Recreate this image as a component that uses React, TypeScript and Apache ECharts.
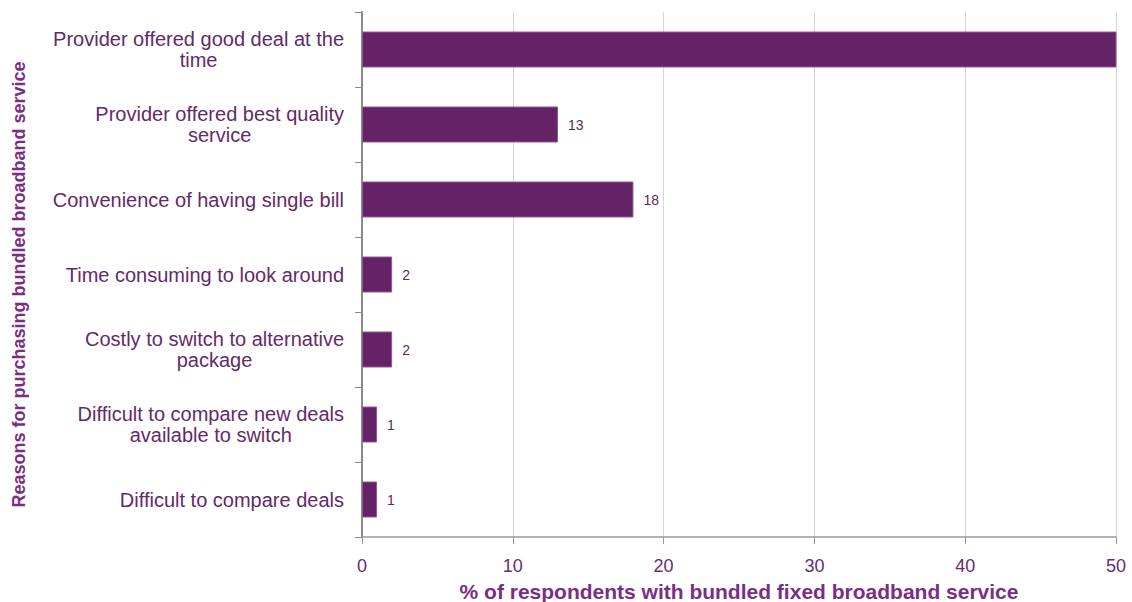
import React, { useEffect, useRef } from "react";
import * as echarts from "echarts";

const categories: string[] = [
  "Provider offered good deal at the\ntime",
  "Provider offered best quality\nservice",
  "Convenience of having single bill",
  "Time consuming to look around",
  "Costly to switch to alternative\npackage",
  "Difficult to compare new deals\navailable to switch",
  "Difficult to compare deals",
];
const values: number[] = [63, 13, 18, 2, 2, 1, 1];
const xTicks = { min: 0, max: 50, interval: 10 };
const xTitle = "% of respondents with bundled fixed broadband service";
const yTitle = "Reasons for purchasing bundled broadband service";

const FONT = "Liberation Sans, Arial, sans-serif";

export default function App() {
  const ref = useRef<HTMLDivElement>(null);
  useEffect(() => {
    if (!ref.current) return;
    const chart = echarts.init(ref.current, null, { renderer: "svg" });
    chart.setOption({
      animation: false,
      backgroundColor: "#ffffff",
      grid: {
        left: 362,
        right: 16,
        top: 12,
        bottom: 65,
        containLabel: false,
        outerBoundsMode: "none",
      },
      xAxis: {
        type: "value",
        min: xTicks.min,
        max: xTicks.max,
        interval: xTicks.interval,
        name: xTitle,
        nameLocation: "middle",
        nameGap: 44,
        nameTextStyle: {
          color: "#7b2d86",
          fontWeight: "bold",
          fontSize: 21,
          fontFamily: FONT,
        },
        axisLine: { show: true, lineStyle: { color: "#9a9a9a", width: 1.5 } },
        axisTick: { show: true, length: 7, lineStyle: { color: "#9a9a9a" } },
        axisLabel: {
          color: "#6a2a70",
          fontSize: 18,
          margin: 20,
          fontFamily: FONT,
        },
        splitLine: { show: true, lineStyle: { color: "#d6d6d6", width: 1 } },
      },
      yAxis: {
        type: "category",
        data: categories,
        inverse: true,
        name: yTitle,
        nameLocation: "middle",
        nameGap: 334,
        nameTextStyle: {
          color: "#7b2d86",
          fontWeight: "bold",
          fontSize: 18,
          fontFamily: FONT,
          padding: [0, 20, 0, 0],
        },
        axisLine: { show: true, lineStyle: { color: "#8a8a8a", width: 2 } },
        axisTick: { show: true, length: 7, lineStyle: { color: "#8a8a8a" } },
        axisLabel: {
          margin: 18,
          align: "right",
          formatter: (v: string) =>
            v
              .split("\n")
              .map((line) => "{c|" + line + "}")
              .join("\n"),
          rich: {
            c: {
              align: "center",
              color: "#632a6a",
              fontSize: 20,
              lineHeight: 21,
              fontFamily: FONT,
            },
          },
        },
      },
      series: [
        {
          type: "bar",
          data: values,
          barCategoryGap: "52%",
          clip: true,
          itemStyle: { color: "#642366", borderColor: "#8e5a90", borderWidth: 1 },
          label: {
            show: true,
            position: "right",
            distance: 10,
            color: "#5a2a60",
            fontSize: 14,
            fontFamily: FONT,
            formatter: (p: any) => (p.value > xTicks.max ? "" : String(p.value)),
          },
        },
      ],
    });
    return () => chart.dispose();
  }, []);
  return <div ref={ref} style={{ width: 1132, height: 602, position: "absolute", left: 0, top: 0 }} />;
}
